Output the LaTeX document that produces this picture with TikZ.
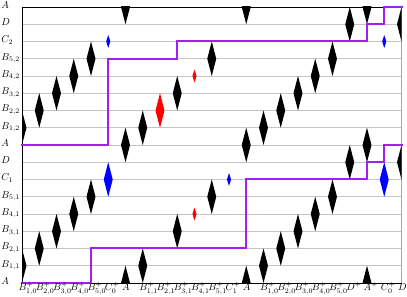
\documentclass[tikz,border=0pt]{standalone}
\usepackage{amsmath}
\definecolor{gridgray}{HTML}{C4C4C4}
\definecolor{edgegray}{HTML}{A8A8A8}
\definecolor{pathpurple}{RGB}{160,32,240}
\tikzset{
  gridline/.style={draw=gridgray, line width=0.8pt},
  frameline/.style={draw=black, line width=0.8pt},
  stairpath/.style={draw=pathpurple, line width=2pt, line cap=rect, line join=miter},
  rowlabel/.style={anchor=base west, inner sep=0pt, xshift=-20.7pt, yshift=-1.3pt},
  collabel/.style={anchor=base west, inner sep=0pt, xshift=-3.6pt, yshift=-7.5pt},
  pics/bigdia/.style={code={\fill (0,1) -- (0.26,0) -- (0,-1) -- (-0.26,0) -- cycle;}},
  pics/smalldia/.style={code={\fill (0,0.37) -- (0.12,0) -- (0,-0.37) -- (-0.12,0) -- cycle;}},
}
\begin{document}
\begin{tikzpicture}[x=1pt,y=1pt]
\useasboundingbox (0,0) rectangle (407,297);
\begin{scope}[shift={(22pt,14pt)}, x=17.25pt, y=17.25pt]
  % grid lines
  \foreach \r in {1,...,15} \draw[gridline] (0,\r) -- (22,\r);
  \draw[draw=edgegray, line width=0.8pt] (22,0) -- (22,16);
  % diamonds
  \begin{scope}
    \clip (0,0) rectangle (22,16);
    \foreach \c/\r in {0/1,1/2,2/3,3/4,4/5,6/8,6/0,7/1,9/3,11/5,13/8,13/0,14/1,15/2,16/3,17/4,18/5,19/7,20/8,20/0,22/7,
                       0/9,1/10,2/11,3/12,4/13,6/16,7/9,9/11,11/13,13/16,14/9,15/10,16/11,17/12,18/13,19/15,20/16,22/15}
      \pic[black] at (\c,\r) {bigdia};
    \pic[red] at (8,10) {bigdia};
    \pic[red] at (10,12) {smalldia};
    \pic[red] at (10,4) {smalldia};
    \pic[blue] at (5,6) {bigdia};
    \pic[blue] at (21,6) {bigdia};
    \pic[blue] at (5,14) {smalldia};
    \pic[blue] at (12,6) {smalldia};
    \pic[blue] at (21,14) {smalldia};
  \end{scope}
  % frame
  \draw[frameline] (22,16) -- (0,16) -- (0,0) -- (22,0);
  % purple staircase paths
  \draw[stairpath] (0,8) -| (5,13) -| (9,14) -| (20,15) -| (21,16) -- (22,16);
  \draw[stairpath] (0,0) -| (4,2) -| (13,6) -| (20,7) -| (21,8) -- (22,8);
  % row labels
  \foreach \r/\t in {0/A,1/{B_{1,1}},2/{B_{2,1}},3/{B_{3,1}},4/{B_{4,1}},5/{B_{5,1}},6/{C_1},7/D,8/A,
                     9/{B_{1,2}},10/{B_{2,2}},11/{B_{3,2}},12/{B_{4,2}},13/{B_{5,2}},14/{C_2},15/D,16/A}
    \node[rowlabel] (l\r) at (0,\r) {$\t$};
  % column labels
  \foreach \c/\t in {0/{B^+_{1,0}},1/{B^+_{2,0}},2/{B^+_{3,0}},3/{B^+_{4,0}},4/{B^+_{5,0}},5/{C^+_0},6/A,
                     7/{B^+_{1,1}},8/{B^+_{2,1}},9/{B^+_{3,1}},10/{B^+_{4,1}},11/{B^+_{5,1}},12/{C^+_1},13/A,
                     14/{B^+_{1,0}},15/{B^+_{2,0}},16/{B^+_{3,0}},17/{B^+_{4,0}},18/{B^+_{5,0}},19/{D^+},20/{A^+},21/{C^+_0},22/D}
    \node[collabel] (b\c) at (\c,0) {$\t$};
\end{scope}
\end{tikzpicture}
\end{document}
